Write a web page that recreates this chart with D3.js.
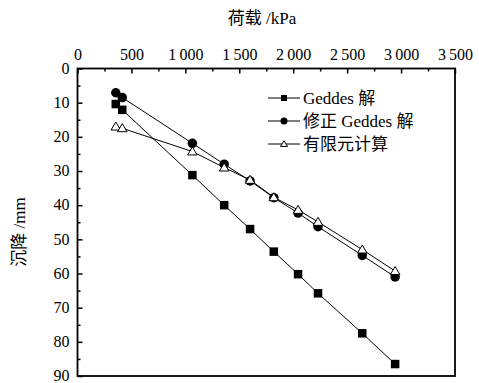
<!DOCTYPE html>
<html>
<head>
<meta charset="utf-8">
<script src="https://cdn.jsdelivr.net/npm/d3@7"></script>
<style>
  body { margin: 0; background: #fff; }
</style>
</head>
<body>
<script>
// données
const loads = [355, 415, 1065, 1360, 1600, 1820, 2045, 2230, 2640, 2945]
const geddes = [10.4, 12.1, 31.2, 40.0, 47.0, 53.6, 60.2, 65.8, 77.5, 86.5]
const geddesMod = [7.1, 8.5, 21.9, 28.0, 32.9, 37.8, 42.3, 46.3, 54.7, 61.0]
const fem = [17.0, 17.5, 24.3, 29.0, 32.6, 37.7, 41.4, 44.9, 53.0, 59.3]
const seriesNames = ["Geddes 解", "修正 Geddes 解", "有限元计算"]
const xTicks = [0, 500, 1000, 1500, 2000, 2500, 3000, 3500]
const yTicks = [0, 10, 20, 30, 40, 50, 60, 70, 80, 90]

const W = 479, H = 383
const m = { left: 77.5, right: 455, top: 68.5, bottom: 376 }
const FONT = "'Liberation Serif', 'Times New Roman', 'DejaVu Serif', 'Noto Sans CJK SC', serif"

const svg = d3.select("body").append("svg").attr("width", W).attr("height", H)

const x = d3.scaleLinear().domain([0, 3500]).range([m.left, m.right])
const y = d3.scaleLinear().domain([0, 90]).range([m.top, m.bottom])

const fmt = d => d >= 1000 ? Math.floor(d / 1000) + "\u2009" + String(d % 1000).padStart(3, "0") : String(d)

// axes
const axTop = svg.append("g").attr("transform", `translate(0,${m.top})`)
  .call(d3.axisTop(x).tickValues(xTicks).tickSize(-5).tickPadding(9).tickFormat(fmt))
axTop.selectAll("text").attr("font-size", 16)
axTop.append("g").call(d3.axisTop(x).tickValues(d3.range(250, 3500, 500)).tickSize(-3).tickFormat(""))

const axLeft = svg.append("g").attr("transform", `translate(${m.left},0)`)
  .call(d3.axisLeft(y).tickValues(yTicks).tickSize(-5).tickPadding(8))
axLeft.selectAll("text").attr("font-size", 16).attr("dy", "0.3em")
axLeft.append("g").call(d3.axisLeft(y).tickValues(d3.range(5, 90, 10)).tickSize(-3).tickFormat(""))

svg.selectAll(".domain").remove()
svg.selectAll("g").attr("font-family", FONT)
svg.selectAll(".tick line").attr("stroke", "#000").attr("stroke-width", 1.5)

svg.append("rect").attr("x", m.left).attr("y", m.top)
  .attr("width", m.right - m.left).attr("height", m.bottom - m.top)
  .attr("fill", "none").attr("stroke", "#000").attr("stroke-width", 1.8)

// titres
svg.append("text").attr("x", 262).attr("y", 24).attr("text-anchor", "middle")
  .attr("font-family", FONT).attr("font-size", 17).text("荷载 /kPa")
svg.append("text").attr("transform", "translate(25,232) rotate(-90)")
  .attr("text-anchor", "middle").attr("font-family", FONT).attr("font-size", 17).text("沉降 /mm")

// séries
const line = d3.line().x((d, i) => x(loads[i])).y(d => y(d))

function marker(g, type, s) {
  if (type == "square") {
    g.append("rect").attr("x", -s / 2).attr("y", -s / 2).attr("width", s).attr("height", s).attr("fill", "#000")
  } else if (type == "circle") {
    g.append("circle").attr("r", s / 2 + 0.5).attr("fill", "#000")
  } else {
    const h = s * 0.9
    g.append("path").attr("d", `M0,${-h * 0.6}L${s / 2 + 0.5},${h * 0.45}L${-s / 2 - 0.5},${h * 0.45}Z`)
      .attr("fill", "#fff").attr("stroke", "#000").attr("stroke-width", 1)
  }
}

const series = [
  { values: geddes, type: "square" },
  { values: geddesMod, type: "circle" },
  { values: fem, type: "tri" }
]

series.forEach(s => {
  svg.append("path").datum(s.values).attr("d", line)
    .attr("fill", "none").attr("stroke", "#000").attr("stroke-width", 1)
})
series.forEach(s => {
  s.values.forEach((v, i) => {
    const g = svg.append("g").attr("transform", `translate(${x(loads[i])},${y(v)})`)
    marker(g, s.type, 8.5)
  })
})

// légende
series.forEach((s, i) => {
  const ly = 98 + i * 23
  svg.append("line").attr("x1", 268).attr("x2", 300).attr("y1", ly).attr("y2", ly)
    .attr("stroke", "#000").attr("stroke-width", 1)
  const g = svg.append("g").attr("transform", `translate(284,${ly})`)
  marker(g, s.type, 6)
  svg.append("text").attr("x", 303).attr("y", ly + 6).attr("font-family", FONT)
    .attr("font-size", 17).text(seriesNames[i])
})
</script>
</body>
</html>
